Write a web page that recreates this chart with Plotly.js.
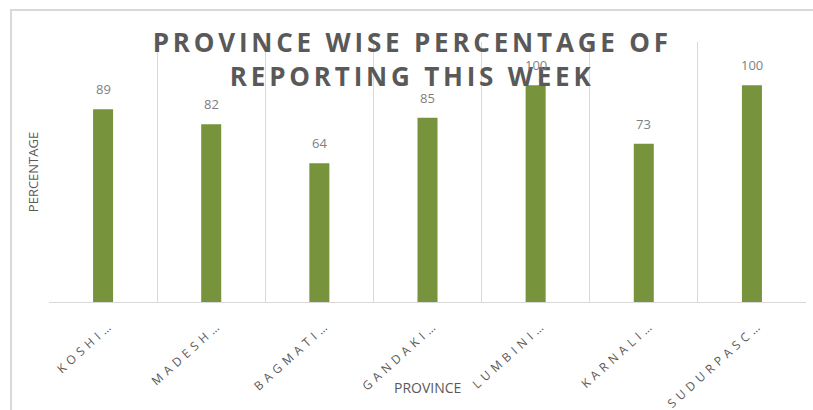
<!DOCTYPE html>
<html>
<head>
<meta charset="utf-8">
<script src="https://cdn.plot.ly/plotly-3.0.1.min.js"></script>
<style>
  html, body { margin: 0; padding: 0; background: #fff; }
  #chart { width: 813px; height: 410px; }
  .xtick text { letter-spacing: 4.5px; }
  .gtitle { letter-spacing: 3.8px; }
</style>
</head>
<body>
<div id="chart"></div>
<script>
const provinces = ["KOSHI…", "MADESH…", "BAGMATI…", "GANDAKI…", "LUMBINI…", "KARNALI…", "SUDURPASC…"];
const percentage = [89, 82, 64, 85, 100, 73, 100];

const titleText = "PROVINCE WISE PERCENTAGE OF<br>REPORTING THIS WEEK";
const xTitle = "PROVINCE";
const yTitle = "PERCENTAGE";

const barColor = "#77933C";
const textGray = "#595959";
const gridGray = "#D9D9D9";

const trace = {
  type: "bar",
  x: provinces,
  y: percentage,
  marker: { color: barColor },
  hoverinfo: "x+y"
};

const labelAnnotations = provinces.map((p, i) => ({
  x: p, y: percentage[i], xref: "x", yref: "y",
  text: String(percentage[i]),
  showarrow: false, yanchor: "bottom", yshift: 9,
  font: { family: "Open Sans", size: 13, color: "#7F7F7F" }
}));

const layout = {
  width: 813, height: 410,
  margin: { l: 49, r: 7, t: 42, b: 108 },
  paper_bgcolor: "#FFFFFF",
  plot_bgcolor: "#FFFFFF",
  bargap: 0.815,
  showlegend: false,
  title: {
    text: titleText,
    font: { family: "Open Sans", size: 26, color: textGray, weight: 700 },
    x: 0.507, xanchor: "center",
    y: 0.872, yanchor: "top", yref: "container"
  },
  xaxis: {
    type: "category",
    tickson: "boundaries",
    showgrid: true, gridcolor: gridGray, gridwidth: 1,
    showline: true, linecolor: gridGray, linewidth: 1,
    ticks: "", tickangle: -42,
    ticklabelstandoff: 10,
    ticklabelshift: 8,
    tickfont: { family: "Open Sans", size: 12, color: textGray },
    zeroline: false
  },
  yaxis: {
    range: [0, 120],
    showgrid: false, zeroline: false,
    showticklabels: false, ticks: "",
    showline: false,
    title: { text: yTitle, font: { family: "Open Sans", size: 13, color: textGray }, standoff: 6 }
  },
  annotations: labelAnnotations.concat([{
    text: xTitle, xref: "paper", yref: "paper", x: 0.5, y: -0.285,
    xanchor: "center", yanchor: "top", showarrow: false,
    font: { family: "Open Sans", size: 14, color: textGray }
  }]),
  shapes: [{
    type: "rect", xref: "paper", yref: "paper",
    x0: -0.0502, x1: 1.06, y0: -0.45, y1: 1.123,
    line: { color: gridGray, width: 2 }, layer: "below"
  }]
};

Plotly.newPlot("chart", [trace], layout, { displayModeBar: false });
</script>
</body>
</html>
